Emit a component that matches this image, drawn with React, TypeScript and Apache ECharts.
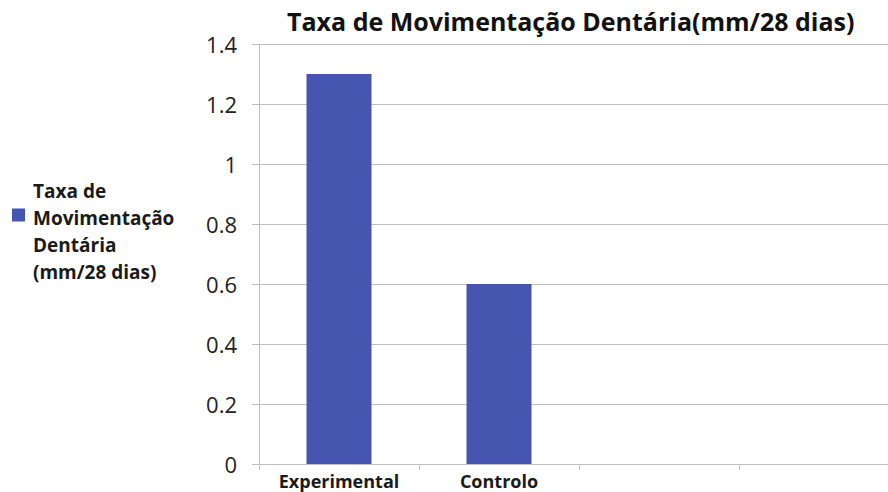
import React, { useEffect, useRef } from "react";
import * as echarts from "echarts";

const categories = ["Experimental", "Controlo", "", ""];
const values = [1.3, 0.6, null, null];
const seriesName = "Taxa de Movimentação Dentária (mm/28 dias)";
const legendLines = ["Taxa de", "Movimentação", "Dentária", "(mm/28 dias)"];
const titleText = "Taxa de Movimentação Dentária(mm/28 dias)";

const FONT = "'Open Sans', 'Noto Sans', sans-serif";

export default function App() {
  const ref = useRef<HTMLDivElement>(null);
  useEffect(() => {
    if (!ref.current) return;
    const chart = echarts.init(ref.current, null, { renderer: "svg" });
    chart.setOption({
      animation: false,
      backgroundColor: "#ffffff",
      title: {
        text: titleText,
        left: 282,
        top: 3,
        textStyle: { fontFamily: FONT, fontSize: 25, fontWeight: "bold", color: "#111" },
      },
      legend: {
        orient: "vertical",
        left: 12,
        top: 156,
        padding: 0,
        icon: "rect",
        itemWidth: 13,
        itemHeight: 13,
        itemGap: 0,
        formatter: () =>
          "{s| }\n" + legendLines.map((l) => "{t|" + l + "}").join("\n"),
        textStyle: {
          fontFamily: FONT,
          fontSize: 19,
          fontWeight: "bold",
          color: "#1a1a1a",
          rich: {
            s: { lineHeight: 32, fontSize: 10 },
            t: {
              fontFamily: FONT,
              fontSize: 19,
              fontWeight: "bold",
              color: "#1a1a1a",
              lineHeight: 27,
              padding: [0, 0, 0, 3],
            },
          },
        },
        data: [seriesName],
      },
      grid: { left: 259, top: 44, bottom: 28, right: 1, containLabel: false },
      xAxis: {
        type: "category",
        data: categories,
        axisLine: { show: true, lineStyle: { color: "#bfbfbf", width: 1 } },
        axisTick: { show: true, length: 6, lineStyle: { color: "#bfbfbf" } },
        axisLabel: {
          interval: 0,
          margin: 8,
          fontFamily: FONT,
          fontSize: 18,
          fontWeight: "bold",
          color: "#1a1a1a",
        },
      },
      yAxis: {
        type: "value",
        min: 0,
        max: 1.4,
        interval: 0.2,
        axisLine: { show: true, lineStyle: { color: "#bfbfbf", width: 1 } },
        axisTick: { show: true, length: 7, lineStyle: { color: "#bfbfbf" } },
        splitLine: { show: true, lineStyle: { color: "#bfbfbf", width: 1 } },
        axisLabel: {
          margin: 22,
          fontFamily: FONT,
          fontSize: 22,
          color: "#222",
        },
      },
      series: [
        {
          name: seriesName,
          type: "bar",
          data: values,
          barWidth: 65,
          itemStyle: { color: "#4655AF" },
        },
      ],
    });
    return () => chart.dispose();
  }, []);
  return (
    <div
      style={{
        position: "fixed",
        left: 0,
        top: 0,
        width: 888,
        height: 492,
        overflow: "hidden",
      }}
    >
      <div ref={ref} style={{ width: 900, height: 492 }} />
    </div>
  );
}
